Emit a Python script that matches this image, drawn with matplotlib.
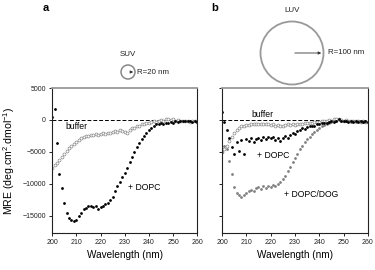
import numpy as np
import matplotlib
matplotlib.use("Agg")
import matplotlib.pyplot as plt
from matplotlib.patches import Circle

plt.rcParams['font.family'] = ['Liberation Sans', 'DejaVu Sans']
plt.rcParams['mathtext.fontset'] = 'custom'
plt.rcParams['mathtext.rm'] = 'Liberation Sans'
plt.rcParams['mathtext.it'] = 'Liberation Sans'

# wavelength grid (nm)
wl = np.arange(200, 261)

# panel a (SUV)
a_buffer = [-7500, -7100, -6800, -6300, -5800, -5300, -4900, -4400, -4100, -3800,
            -3400, -3100, -2800, -2700, -2500, -2500, -2300, -2400, -2200, -2300,
            -2200, -2100, -2200, -2000, -2100, -1900, -1800, -1900, -1600, -1700,
            -1900, -2100, -1600, -1300, -1200, -1000, -900, -700, -600, -500,
            -400, -300, -200, -300, -100, 0, -100, 100, 200, 0,
            100, -100, 0, -200, -100, -200, -100, -300, -200, -200, -300]
a_dopc = [500, 1700, -3600, -8500, -10700, -13000, -14500, -15300, -15700, -15800,
          -15600, -15100, -14500, -14000, -13800, -13500, -13400, -13700, -13500, -13900,
          -13600, -13500, -13200, -13000, -12600, -12000, -11200, -10400, -9700, -9000,
          -8300, -7500, -6600, -5800, -5000, -4300, -3600, -3000, -2500, -2000,
          -1600, -1200, -900, -700, -600, -500, -600, -400, -500, -300,
          -400, -200, -300, -100, -200, -100, -200, -100, -300, -200, -300]

# panel b (LUV)
b_buffer = [-5000, -4600, -4000, -3300, -2600, -2000, -1500, -1200, -1000, -900,
            -800, -800, -700, -700, -600, -600, -600, -700, -600, -700,
            -800, -700, -900, -800, -900, -900, -800, -700, -800, -700,
            -800, -700, -600, -600, -500, -500, -400, -400, -300, -300,
            -300, -200, -100, -200, 0, -100, 100, 200, 100, 0,
            -100, 0, -200, -100, -200, -100, -200, -300, -200, -300, -300]
b_dopc = [1200, -300, -1500, -2800, -4200, -5400, -3500, -4800, -3200, -5300,
          -3000, -3300, -2900, -3400, -3000, -2800, -3200, -2700, -3000, -2600,
          -2900, -2700, -3100, -2800, -3300, -2900, -2500, -2800, -2300, -2000,
          -2200, -1700, -1500, -1300, -1400, -1100, -1000, -900, -1000, -700,
          -600, -500, -400, -500, -300, -200, -300, -100, 100, -100,
          -200, -100, -300, -200, -300, -200, -300, -200, -300, -200, -300]
b_dopc_dog = [-5000, -4000, -4500, -6500, -8500, -10500, -11500, -11800, -12100, -11700,
              -11500, -11200, -10900, -11100, -10700, -10500, -10800, -10400, -10600, -10300,
              -10500, -10200, -10400, -10000, -9700, -9300, -8700, -8000, -7300, -6600,
              -6000, -5300, -4600, -4000, -3500, -3000, -2600, -2200, -1900, -1600,
              -1300, -1000, -800, -600, -400, -300, -200, -100, 0, -100,
              -200, -100, -200, -300, -200, -300, -200, -300, -200, -300, -300]

xticks = [200, 210, 220, 230, 240, 250, 260]
yticks = [5000, 0, -5000, -10000, -15000]

fig = plt.figure(figsize=(3.75, 2.7), dpi=100)
ax1 = fig.add_axes([0.139, 0.137, 0.387, 0.537])
ax2 = fig.add_axes([0.592, 0.137, 0.389, 0.537])

def style(ax, labels=True):
    ax.set_xlim(200, 260)
    ax.set_ylim(-17700, 5000)
    ax.set_xticks(xticks)
    ax.set_yticks(yticks)
    if not labels:
        ax.set_yticklabels([])
    ax.tick_params(direction='out', length=2.5, width=0.7, labelsize=5,
                   colors='#222222', pad=2)
    for s in ['left', 'bottom', 'right']:
        ax.spines[s].set_color('#222222')
        ax.spines[s].set_linewidth(0.8)
    ax.spines['top'].set_color('#999999')
    ax.spines['top'].set_linewidth(1.3)
    ax.axhline(0, color='black', ls=(0, (4, 2)), lw=0.7, zorder=1)
    ax.set_xlabel('Wavelength (nm)', fontsize=7.2, labelpad=3)

style(ax1)
style(ax2, labels=False)
ax1.set_ylabel('MRE (deg.cm$^2$.dmol$^{-1}$)', fontsize=7.6, labelpad=4)

ax1.plot(wl, a_buffer, 'o', ms=2.1, mfc='white', mec='#888888', mew=0.5)
ax1.plot(wl, a_dopc, 'o', ms=2.0, color='black', mew=0)
ax1.text(205.4, -1100, 'buffer', fontsize=6.2, va='center')
ax1.text(231.4, -10500, '+ DOPC', fontsize=6.2, va='center')

ax2.plot(wl, b_buffer, 'o', ms=2.1, mfc='white', mec='#888888', mew=0.5)
ax2.plot(wl, b_dopc_dog, 'o', ms=2.0, color='#808080', mew=0)
ax2.plot(wl, b_dopc, 'o', ms=2.0, color='black', mew=0)
ax2.text(212.3, 900, 'buffer', fontsize=6.2, va='center')
ax2.text(214.3, -5600, '+ DOPC', fontsize=6.2, va='center')
ax2.text(225.5, -11600, '+ DOPC/DOG', fontsize=6.2, va='center')

# vesicle sketches in pixel coordinates
ov = fig.add_axes([0, 0, 1, 1], zorder=5)
ov.set_xlim(0, 375)
ov.set_ylim(270, 0)
ov.axis('off')
ov.patch.set_alpha(0)

ov.text(46, 8, 'a', fontsize=8, fontweight='bold', ha='center', va='center')
ov.text(215, 8, 'b', fontsize=8, fontweight='bold', ha='center', va='center')

ov.add_patch(Circle((128, 72), 7, fill=False, ec='#888888', lw=1.1))
ov.annotate('', xy=(136, 72), xytext=(128, 72),
            arrowprops=dict(arrowstyle='-|>', color='#333333', lw=0.6, mutation_scale=4))
ov.text(137, 72, 'R=20 nm', fontsize=5.7, va='center', color='#222222')
ov.text(128, 54, 'SUV', fontsize=5.7, ha='center', va='center', color='#222222')

ov.add_patch(Circle((292, 53), 31.5, fill=False, ec='#999999', lw=1.3))
ov.annotate('', xy=(324, 53), xytext=(292, 53),
            arrowprops=dict(arrowstyle='-|>', color='#333333', lw=0.6, mutation_scale=4))
ov.text(328, 53, 'R=100 nm', fontsize=5.7, va='center', color='#222222')
ov.text(292, 11, 'LUV', fontsize=5.7, ha='center', va='center', color='#222222')

fig.savefig('out.png', dpi=100)
